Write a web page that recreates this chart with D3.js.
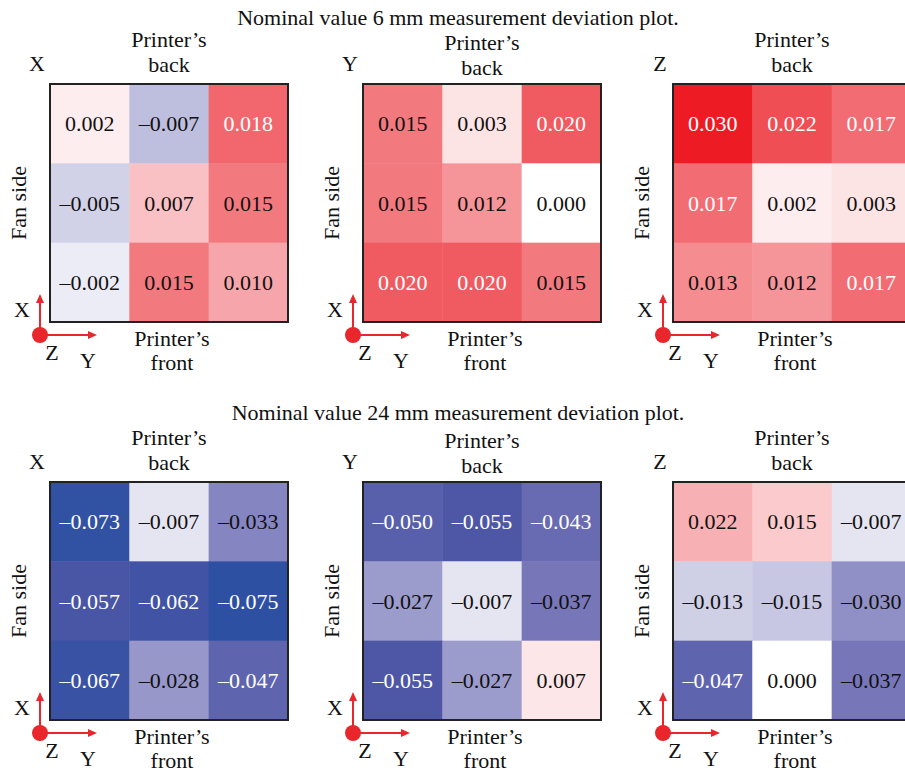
<!DOCTYPE html>
<html>
<head>
<meta charset="utf-8">
<script src="https://cdn.jsdelivr.net/npm/d3@7"></script>
<style>
  body { margin: 0; background: #fff; }
  text { font-family: "Liberation Serif", "Times New Roman", serif; fill: #111; }
</style>
</head>
<body>
<script>
// data: rows are fan side top->bottom, columns printer's back left->right
var axes = ['X', 'Y', 'Z'];
var titles = ['Nominal value 6 mm measurement deviation plot.',
              'Nominal value 24 mm measurement deviation plot.'];

var dev6X = [[0.002, -0.007, 0.018], [-0.005, 0.007, 0.015], [-0.002, 0.015, 0.010]];
var dev6Y = [[0.015, 0.003, 0.020], [0.015, 0.012, 0.000], [0.020, 0.020, 0.015]];
var dev6Z = [[0.030, 0.022, 0.017], [0.017, 0.002, 0.003], [0.013, 0.012, 0.017]];

var dev24X = [[-0.073, -0.007, -0.033], [-0.057, -0.062, -0.075], [-0.067, -0.028, -0.047]];
var dev24Y = [[-0.050, -0.055, -0.043], [-0.027, -0.007, -0.037], [-0.055, -0.027, 0.007]];
var dev24Z = [[0.022, 0.015, -0.007], [-0.013, -0.015, -0.030], [-0.047, 0.000, -0.037]];

var rowsData = [[dev6X, dev6Y, dev6Z], [dev24X, dev24Y, dev24Z]];

var W = 905, H = 773;
var size = 238;
var gridLeft = [50, 363, 673];
var gridTop = [84, 482];
var titleY = [17, 412];
var headShift = [0, 3, 0]; // middle panel header sits a bit lower
var red = '#e8262b';
var fs = 22;

var svg = d3.select('body').append('svg').attr('width', W).attr('height', H);

var fmt = function(v) {
  var s = Math.abs(v).toFixed(3);
  return v < 0 ? '\u2013' + s : s;
};

var arrowHead = function(g, x, y, dir) {
  // small filled triangle pointing up or right
  var p = dir === 'up'
    ? [[x, y], [x - 4, y + 9], [x + 4, y + 9]]
    : [[x, y], [x - 9, y - 4], [x - 9, y + 4]];
  g.append('path').attr('d', d3.line()(p) + 'Z').attr('fill', red);
};

rowsData.forEach(function(panels, r) {
  var m = d3.max(panels, function(p) { return d3.max(p, function(row) { return d3.max(row, Math.abs); }); });
  var color = d3.scaleLinear()
    .domain([-m, -0.75 * m, -0.5 * m, 0, 0.5 * m, m])
    .range(['#2e50a2', '#4a55a5', '#7474b8', '#ffffff', '#f27a7f', '#ed1c24'])
    .clamp(true);

  svg.append('text')
    .attr('x', 458).attr('y', titleY[r])
    .attr('text-anchor', 'middle').attr('dy', '0.35em')
    .attr('font-size', fs)
    .text(titles[r]);

  panels.forEach(function(data, pi) {
    var gl = gridLeft[pi], gt = gridTop[r];
    var g = svg.append('g').attr('transform', 'translate(' + gl + ',' + gt + ')');
    var x = d3.scaleBand().domain([0, 1, 2]).range([0, size]);
    var y = d3.scaleBand().domain([0, 1, 2]).range([0, size]);

    var cells = [];
    data.forEach(function(row, i) {
      row.forEach(function(v, j) { cells.push({ i: i, j: j, v: v }); });
    });

    g.selectAll('rect.cell').data(cells).enter().append('rect')
      .attr('class', 'cell')
      .attr('x', function(d) { return x(d.j); })
      .attr('y', function(d) { return y(d.i); })
      .attr('width', x.bandwidth() + 0.5)
      .attr('height', y.bandwidth() + 0.5)
      .attr('fill', function(d) { return color(d.v); });

    g.selectAll('text.val').data(cells).enter().append('text')
      .attr('class', 'val')
      .attr('x', function(d) { return x(d.j) + x.bandwidth() / 2; })
      .attr('y', function(d) { return y(d.i) + y.bandwidth() / 2; })
      .attr('text-anchor', 'middle').attr('dy', '0.35em')
      .attr('font-size', fs)
      .style('fill', function(d) { return Math.abs(d.v) / m > 0.55 ? '#fff' : '#111'; })
      .text(function(d) { return fmt(d.v); });

    g.append('rect').attr('width', size).attr('height', size)
      .attr('fill', 'none').attr('stroke', '#222').attr('stroke-width', 2);

    var lab = function(tx, ty, s) {
      return g.append('text').attr('x', tx).attr('y', ty)
        .attr('text-anchor', 'middle').attr('dy', '0.35em')
        .attr('font-size', fs).text(s);
    };

    var hs = headShift[pi];
    lab(-13, -21, axes[pi]);
    lab(size / 2, -45 + hs, 'Printer\u2019s');
    lab(size / 2, -20 + hs, 'back');
    lab(-32, size / 2, 'Fan side')
      .attr('transform', 'rotate(-90,' + (-32) + ',' + (size / 2) + ')');
    lab(size / 2 + 3, size + 16, 'Printer\u2019s');
    lab(size / 2 + 3, size + 40, 'front');

    // coordinate icon
    var cx = -10, cy = size + 13;
    g.append('line').attr('x1', cx).attr('y1', cy).attr('x2', cx).attr('y2', cy - 36)
      .attr('stroke', red).attr('stroke-width', 2);
    arrowHead(g, cx, cy - 41, 'up');
    g.append('line').attr('x1', cx).attr('y1', cy).attr('x2', cx + 52).attr('y2', cy)
      .attr('stroke', red).attr('stroke-width', 2);
    arrowHead(g, cx + 57, cy, 'right');
    g.append('circle').attr('cx', cx).attr('cy', cy).attr('r', 8).attr('fill', red);
    lab(-28, size - 13, 'X');
    lab(2, size + 30, 'Z');
    lab(38, size + 38, 'Y');
  });
});
</script>
</body>
</html>
